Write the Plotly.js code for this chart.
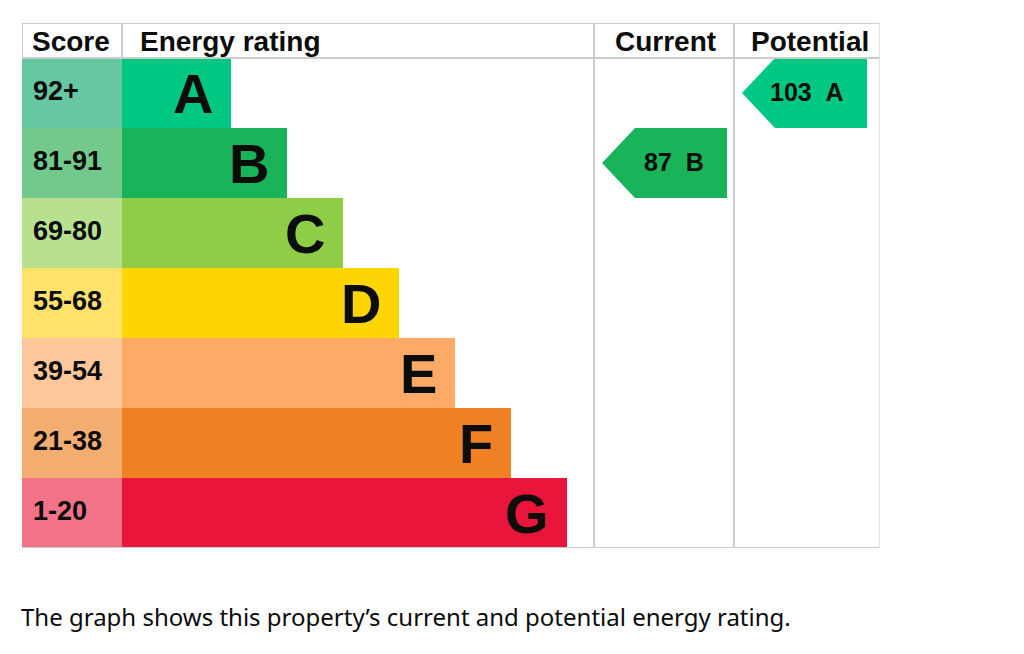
<!DOCTYPE html>
<html>
<head>
<meta charset="utf-8">
<script src="https://cdn.plot.ly/plotly-3.0.1.min.js"></script>
<style>
  html, body { margin: 0; padding: 0; background: #ffffff; }
  #chart { width: 1024px; height: 654px; }
</style>
</head>
<body>
<div id="chart"></div>
<script>
// ---- data ----
const bands = ['A', 'B', 'C', 'D', 'E', 'F', 'G'];
const scoreLabels = ['92+', '81-91', '69-80', '55-68', '39-54', '21-38', '1-20'];
const bandMinScores = [92, 81, 69, 55, 39, 21, 1];
const barLengths = [109, 165, 221, 277, 333, 389, 445];
const bandColors = ['#00c781', '#19b459', '#8dce46', '#ffd500', '#fcaa65', '#ef8023', '#e9153b'];
const scoreColors = ['#66c7a2', '#72c98b', '#b7e08f', '#ffe26a', '#fec79b', '#f4ad71', '#f27388'];
const columnHeaders = ['Score', 'Energy rating', 'Current', 'Potential'];
const currentScore = 87;
const potentialScore = 103;
const caption = 'The graph shows this property\u2019s current and potential energy rating.';

// ---- layout constants (table geometry in axis units) ----
const SCORE_W = 100;
const COL_CUR = [572, 712];
const COL_POT = [712, 858];
const TEXT = '#0b0c0c';
const LINE = '#cccccc';
const FONT = 'Liberation Sans, Arial, sans-serif';

const rows = bands.map((b, i) => i);

function bandIndex(score) {
  for (let i = 0; i < bandMinScores.length; i++) {
    if (score >= bandMinScores[i]) return i;
  }
  return bandMinScores.length - 1;
}

const traces = [];
// score column cells
traces.push({
  type: 'bar', orientation: 'h', y: rows, x: rows.map(() => SCORE_W), base: 0,
  width: 1, marker: { color: scoreColors, line: { width: 0 } },
  hoverinfo: 'skip', showlegend: false
});
// rating bars
traces.push({
  type: 'bar', orientation: 'h', y: rows, x: barLengths, base: SCORE_W,
  width: 1, marker: { color: bandColors, line: { width: 0 } },
  hoverinfo: 'skip', showlegend: false
});

const annotations = [];

function arrow(score, col) {
  const i = bandIndex(score);
  const s = col[0];
  traces.push({
    type: 'scatter', mode: 'lines', fill: 'toself',
    x: [s + 8, s + 41, s + 133, s + 133, s + 41, s + 8],
    y: [i, i - 0.5, i - 0.5, i + 0.5, i + 0.5, i],
    line: { width: 0, color: bandColors[i] }, fillcolor: bandColors[i],
    hoverinfo: 'skip', showlegend: false
  });
  annotations.push({
    x: s + 133, y: i, xref: 'x', yref: 'y', xanchor: 'right', yanchor: 'middle',
    xshift: -21, yshift: 1, showarrow: false,
    text: '<b>' + score + '\u00a0\u00a0' + bands[i] + '</b>',
    font: { family: FONT, size: 25, color: TEXT }
  });
}
arrow(currentScore, COL_CUR);
arrow(potentialScore, COL_POT);

// score labels and letters
rows.forEach(i => {
  annotations.push({
    x: 0, y: i, xref: 'x', yref: 'y', xanchor: 'left', yanchor: 'middle',
    xshift: 9, yshift: 2, showarrow: false,
    text: '<b>' + scoreLabels[i] + '</b>',
    font: { family: FONT, size: 27, color: TEXT }
  });
  annotations.push({
    x: SCORE_W + barLengths[i], y: i, xref: 'x', yref: 'y', xanchor: 'right', yanchor: 'middle',
    xshift: -16, yshift: 0, showarrow: false,
    text: '<b>' + bands[i] + '</b>',
    font: { family: FONT, size: 56, color: TEXT }
  });
});

// headers
const headerPos = [
  { x: 0, anchor: 'left', shift: 8 },
  { x: SCORE_W, anchor: 'left', shift: 16 },
  { x: (COL_CUR[0] + COL_CUR[1]) / 2, anchor: 'center', shift: 1 },
  { x: (COL_POT[0] + COL_POT[1]) / 2, anchor: 'center', shift: 3 }
];
columnHeaders.forEach((h, k) => {
  annotations.push({
    x: headerPos[k].x, y: -0.75, xref: 'x', yref: 'y', xanchor: headerPos[k].anchor,
    yanchor: 'middle', xshift: headerPos[k].shift, yshift: -1, showarrow: false,
    text: '<b>' + h + '</b>',
    font: { family: FONT, size: 28, color: TEXT }
  });
});

// caption
annotations.push({
  x: 0, y: 0, xref: 'paper', yref: 'paper', xanchor: 'left', yanchor: 'middle',
  xshift: -3, yshift: -68, showarrow: false, text: caption,
  font: { family: 'Noto Sans, sans-serif', size: 24, color: TEXT }
});

// table lines
const L = { color: LINE, width: 2 };
const shapes = [
  { type: 'line', xref: 'x', yref: 'y', x0: 0, x1: 858, y0: -1, y1: -1, line: L },
  { type: 'line', xref: 'x', yref: 'y', x0: 0, x1: 858, y0: -0.5, y1: -0.5, line: L },
  { type: 'line', xref: 'x', yref: 'y', x0: 0, x1: 858, y0: 6.5, y1: 6.5, line: L },
  { type: 'line', xref: 'x', yref: 'y', x0: 0, x1: 0, y0: -1, y1: -0.5, line: L },
  { type: 'line', xref: 'x', yref: 'y', x0: SCORE_W, x1: SCORE_W, y0: -1, y1: -0.5, line: L },
  { type: 'line', xref: 'x', yref: 'y', x0: COL_CUR[0], x1: COL_CUR[0], y0: -1, y1: 6.5, line: L },
  { type: 'line', xref: 'x', yref: 'y', x0: COL_POT[0], x1: COL_POT[0], y0: -1, y1: 6.5, line: L },
  { type: 'line', xref: 'x', yref: 'y', x0: COL_POT[1], x1: COL_POT[1], y0: -1, y1: 6.5, line: { color: '#e4e4e4', width: 2 } }
];

const layout = {
  width: 1024, height: 654,
  margin: { l: 22, r: 144, t: 23, b: 106, pad: 0 },
  paper_bgcolor: '#ffffff', plot_bgcolor: '#ffffff',
  bargap: 0, barmode: 'overlay',
  xaxis: { range: [0, 858], visible: false, fixedrange: true },
  yaxis: { range: [6.5, -1], visible: false, fixedrange: true },
  showlegend: false,
  annotations: annotations,
  shapes: shapes
};

Plotly.newPlot('chart', traces, layout, { displayModeBar: false, staticPlot: true });
</script>
</body>
</html>
